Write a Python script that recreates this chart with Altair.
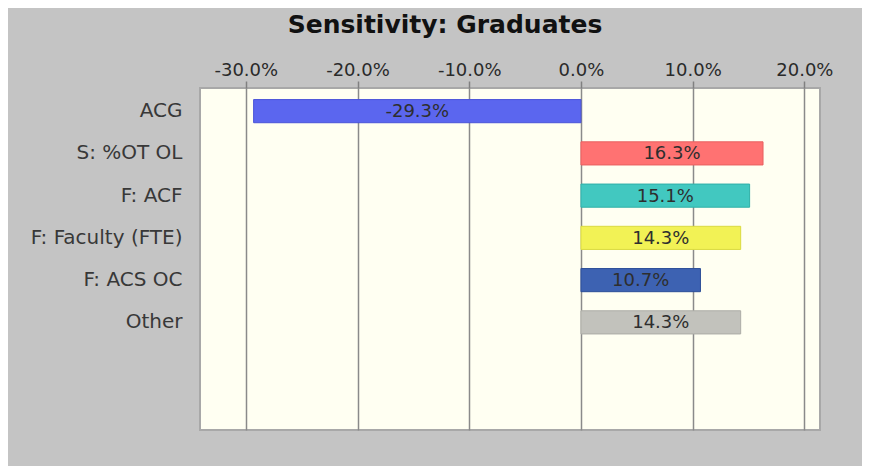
import altair as alt
import pandas as pd

categories = ["ACG", "S: %OT OL", "F: ACF", "F: Faculty (FTE)", "F: ACS OC", "Other"]
values = [-0.293, 0.163, 0.151, 0.143, 0.107, 0.143]
colors = ["#5b66ef", "#ff7272", "#42c8c0", "#f2f255", "#3d62b2", "#c2c2bc"]
strokes = ["#4a54d8", "#e86060", "#30b0a8", "#dada40", "#2c4e98", "#acaca6"]
blank_rows = ["_b1", "_b2"]
tick_values = [-0.3, -0.2, -0.1, 0.0, 0.1, 0.2]

FONT = "DejaVu Sans"

df = pd.DataFrame({"cat": categories, "val": values, "color": colors, "stroke": strokes})

y_scale = alt.Scale(domain=categories + blank_rows, paddingInner=0.452, paddingOuter=0.274)
x_scale = alt.Scale(domain=[-0.341, 0.214], nice=False, zero=False)

bars = alt.Chart(df).mark_bar(strokeWidth=1, opacity=1).encode(
    x=alt.X(
        "val:Q", scale=x_scale,
        axis=alt.Axis(
            orient="top", values=tick_values, title=None,
            labelExpr="replace(format(datum.value, '.1%'), '\u2212', '-')",
            labelFontSize=18, labelColor="#2a2a2a", labelFont=FONT,
            tickSize=7, tickColor="#808080", tickWidth=1.5, labelPadding=2,
            domain=False, grid=True, gridColor="#8a8a8a", gridWidth=1.5,
        ),
    ),
    x2=alt.datum(0),
    y=alt.Y(
        "cat:N", scale=y_scale,
        axis=alt.Axis(
            title=None, ticks=False, domain=False, labelPadding=18, labelFontSize=20,
            labelColor="#383838", labelFont=FONT,
            labelExpr="indexof(datum.value, '_b') == 0 ? '' : datum.value",
        ),
    ),
    color=alt.Color("color:N", scale=None),
    stroke=alt.Stroke("stroke:N", scale=None),
)

labels = alt.Chart(df).transform_calculate(
    mid="datum.val / 2",
    txt="replace(format(datum.val, '.1%'), '\u2212', '-')",
).mark_text(
    fontSize=18, color="#2e2e2e", font=FONT, baseline="middle", dy=1
).encode(
    x=alt.X("mid:Q", scale=x_scale),
    y=alt.Y("cat:N", scale=y_scale),
    text="txt:N",
)

chart = (
    alt.layer(bars, labels)
    .properties(
        width=620, height=342,
        title=alt.TitleParams(
            "Sensitivity: Graduates", fontSize=25, fontWeight="bold",
            font=FONT, color="#111111", anchor="middle", offset=23, dx=-65,
        ),
        autosize=alt.AutoSizeParams(type="none"),
        padding={"left": 192, "top": 80, "right": 42, "bottom": 36},
        background="#c4c4c4",
    )
    .configure_view(fill="#fffff2", stroke="#a8a8a8", strokeWidth=2)
)

chart.save("out.html", embed_options={"renderer": "svg", "actions": False})
